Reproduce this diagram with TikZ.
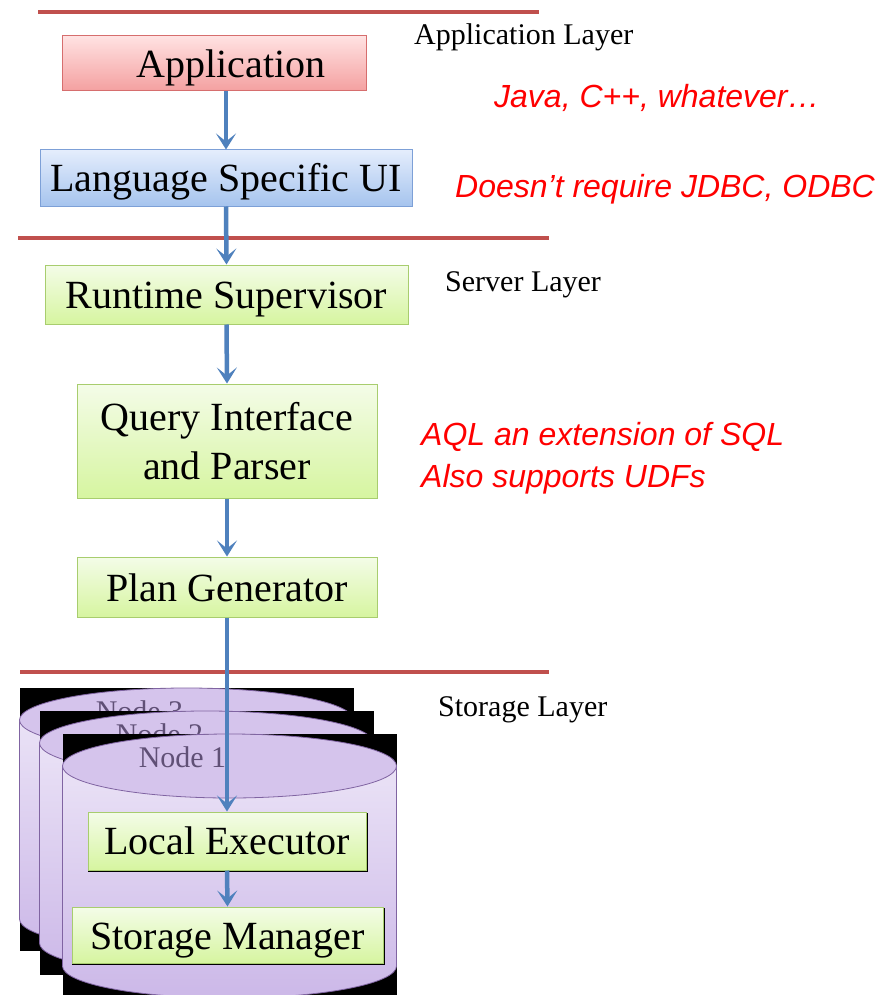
\documentclass[tikz,border=0pt]{standalone}
\usepackage{fontspec}
\setmainfont{Liberation Serif}
\newfontfamily\notefont{Liberation Sans}
\usetikzlibrary{arrows.meta}

\definecolor{layerred}{RGB}{192,80,77}
\definecolor{flowblue}{RGB}{79,129,189}
\definecolor{notered}{RGB}{255,0,0}
\definecolor{appdraw}{RGB}{214,110,110}
\definecolor{uidraw}{RGB}{125,160,215}
\definecolor{srvdraw}{RGB}{168,205,110}
\definecolor{cyldraw}{RGB}{128,100,162}
\definecolor{cyltext}{RGB}{96,80,118}

\begin{document}
\begin{tikzpicture}[x=1pt,y=-1pt,
		layerline/.style={draw=layerred, line width=3.5pt},
		layername/.style={anchor=west, inner sep=0pt, font=\fontsize{30}{34}\selectfont},
		remark/.style={anchor=west, inner sep=0pt, text=notered, font=\fontsize{32}{38}\selectfont\notefont\itshape},
		box/.style={rectangle, inner sep=0pt, line width=1pt, align=center, text height=33pt, text depth=5pt, font=\fontsize{40}{49}\selectfont},
		appbox/.style={box, draw=appdraw, top color={rgb,255:red,255;green,226;blue,226}, bottom color={rgb,255:red,244;green,160;blue,160}},
		uibox/.style={box, draw=uidraw, top color={rgb,255:red,228;green,237;blue,252}, bottom color={rgb,255:red,166;green,196;blue,238}},
		srvbox/.style={box, draw=srvdraw, top color={rgb,255:red,244;green,252;blue,232}, bottom color={rgb,255:red,214;green,245;blue,160}},
		shadowed/.style={preaction={draw=black, line width=1.5pt, transform canvas={shift={(1pt,-1.5pt)}}}},
		cylbody/.style={draw=cyldraw, line width=0.8pt, top color={rgb,255:red,234;green,226;blue,246}, bottom color={rgb,255:red,204;green,184;blue,232}},
		cyltop/.style={draw=cyldraw, line width=0.8pt, fill={rgb,255:red,213;green,196;blue,236}},
		cyllabel/.style={inner sep=0pt, text=cyltext, font=\fontsize{30}{34}\selectfont},
		flow/.style={draw=flowblue, line width=4.5pt, -{Stealth[length=16pt,width=20pt,inset=8pt]}}]
		\useasboundingbox[fill=white] (0,0) rectangle (893,995);
		\draw[layerline] (38,12) -- (539,12);
		\draw[layerline] (18,238) -- (549,238);
		\draw[layerline] (20,672) -- (549,672);
		\node[layername] (applayer) at (414,37) {Application Layer};
		\node[layername] (srvlayer) at (445,285) {Server Layer};
		\node[layername] (stolayer) at (438,710) {Storage Layer};
		\node[remark] (java) at (494,98) {Java, C++, whatever…};
		\node[remark] (jdbc) at (455,189) {Doesn’t require JDBC, ODBC};
		\node[remark] (aql) at (421,437) {AQL an extension of SQL};
		\node[remark] (udf) at (421,479) {Also supports UDFs};
		\node[appbox, minimum width=304pt, minimum height=55pt] (app) at (214,63.5) {\hspace*{34pt}Application};
		\node[uibox, minimum width=372pt, minimum height=56pt] (lui) at (226,178) {Language Specific UI};
		\node[srvbox, minimum width=363pt, minimum height=59pt] (rts) at (226.5,294.5) {Runtime Supervisor};
		\node[srvbox, minimum width=300pt, minimum height=114pt, text height=81pt, text depth=5pt] (qip) at (227,441) {Query Interface\\and Parser};
		\node[srvbox, minimum width=300pt, minimum height=60pt] (plan) at (227,587) {Plan Generator};
		\foreach \cx/\ct/\cb/\n in {186.5/720/919/3, 206.5/743/943/2, 229.5/766/966/1}{
			\fill[black] (\cx-167,\ct-32) rectangle (\cx+167,\cb+32);
			\path[cylbody] (\cx-167,\ct) -- (\cx-167,\cb) arc[start angle=180, end angle=0, x radius=167, y radius=32] -- (\cx+167,\ct) -- cycle;
			\path[cyltop] (\cx,\ct) ellipse[x radius=167, y radius=32];
			\node[cyllabel] (node\n) at (\cx-47,\ct-9) {Node \n};
		}
		\node[srvbox, shadowed, minimum width=278pt, minimum height=58pt, text height=31pt] (lex) at (227,841) {Local Executor};
		\node[srvbox, shadowed, minimum width=311pt, minimum height=56pt] (sto) at (227.5,935) {Storage Manager};
		\draw[flow] (app.south -| lui.north) -- (lui.north);
		\draw[flow] (lui.south) -- (rts.north);
		\draw[flow] (rts.south) -- (qip.north);
		\draw[flow] (qip.south) -- (plan.north);
		\draw[flow] (plan.south) -- (lex.north);
		\draw[flow] (lex.south) -- (sto.north);
	\end{tikzpicture}
\end{document}
